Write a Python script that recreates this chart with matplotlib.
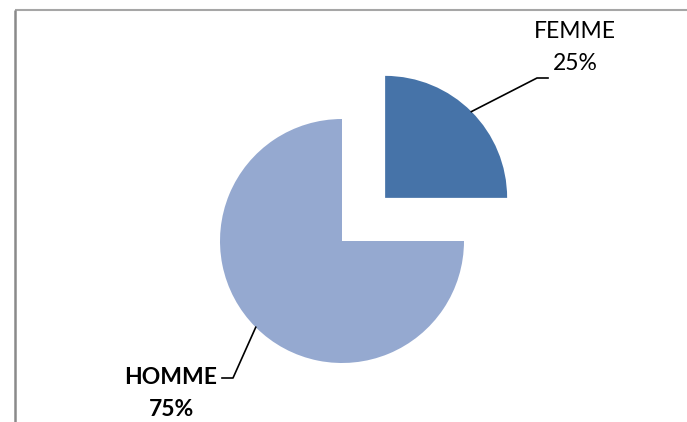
import matplotlib.pyplot as plt
import numpy as np

# parts of the population by sex (percent)
labels = ['FEMME', 'HOMME']
values = [25, 75]
colors = ['#4673A8', '#95A9D0']
explode = [0.5, 0.0]  # fraction of the radius

W, H = 687, 422
fig = plt.figure(figsize=(W / 100, H / 100), dpi=100)
ax = fig.add_axes([0, 0, 1, 1])

cx, cy, r = 342, H - 241, 122
# pie() treats explode as an absolute offset, so scale by the radius
wedges, _ = ax.pie(values, colors=colors, explode=[e * r for e in explode],
                   startangle=90, counterclock=False, center=(cx, cy), radius=r,
                   wedgeprops=dict(linewidth=0))
ax.set_xlim(0, W)
ax.set_ylim(0, H)
ax.set_aspect('equal')
ax.axis('off')

# chart area frame (only top and left edges show)
ax.plot([15, W], [H - 10, H - 10], color='#a6a6a6', lw=1.5, solid_capstyle='butt')
ax.plot([15, 15], [H - 10, 0], color='#8a8a8a', lw=1.8, solid_capstyle='butt')

# label anchors: (elbow x, elbow y, end x, text x, name y, value y, bold)
label_pos = [
    (537, H - 78, 548, 575, H - 32, H - 64, False),
    (233, H - 378, 222, 171, H - 378, H - 409, True),
]

for w, lab, val, (ex, ey, hx, tx, ny, vy, bold) in zip(wedges, labels, values, label_pos):
    mid = np.deg2rad((w.theta1 + w.theta2) / 2)
    x0 = w.center[0] + w.r * np.cos(mid)
    y0 = w.center[1] + w.r * np.sin(mid)
    ax.plot([x0, ex, hx], [y0, ey, ey], color='black', lw=1.2)
    kw = dict(ha='center', va='center', fontsize=16.5,
              family=['Lato', 'DejaVu Sans'],
              fontweight='bold' if bold else 'normal')
    ax.text(tx, ny, lab, **kw)
    ax.text(tx, vy, f'{val}%', **kw)

fig.savefig('out.png', dpi=100)
